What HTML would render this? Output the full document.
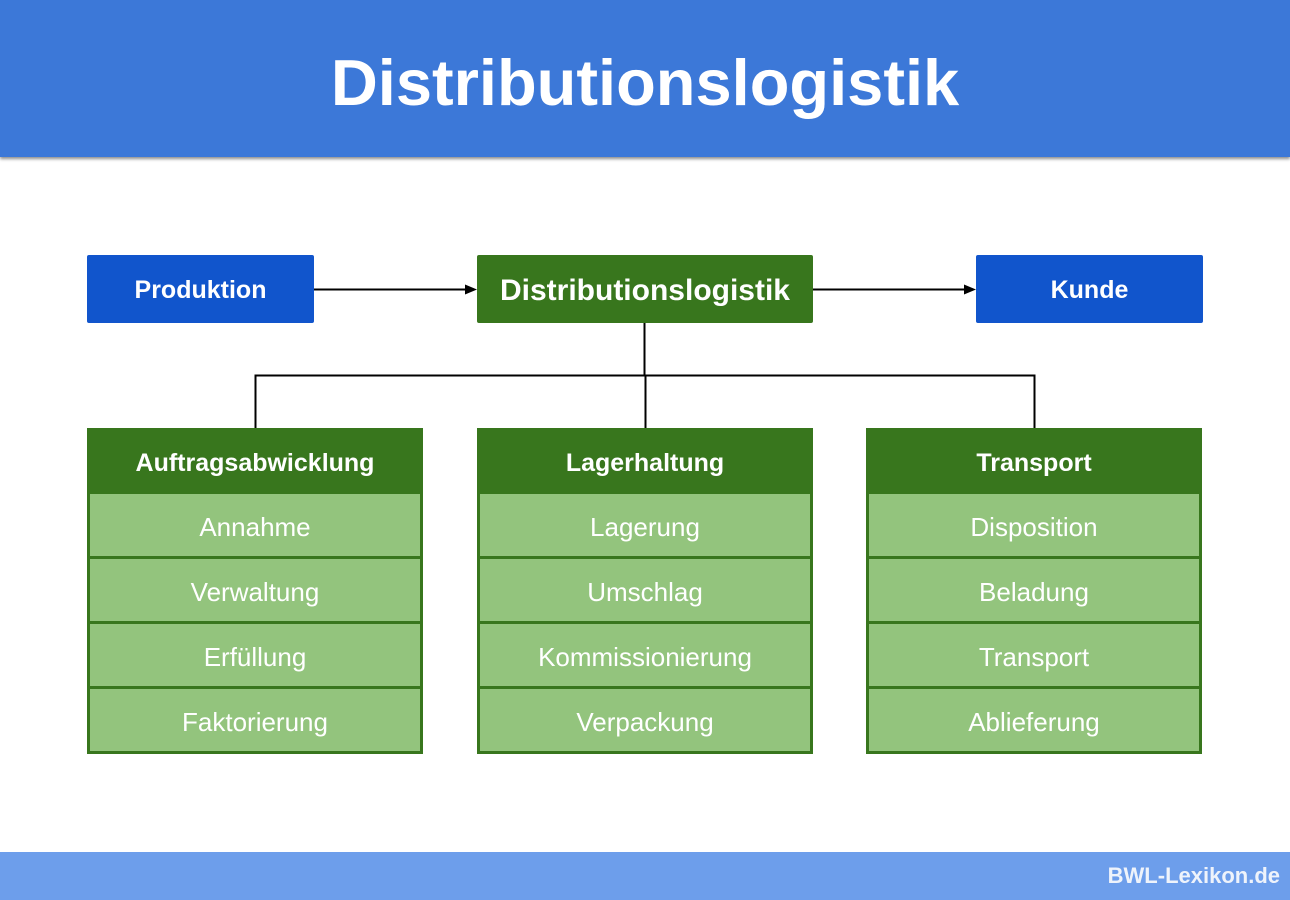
<!DOCTYPE html>
<html><head><meta charset="utf-8"><style>
body{margin:0;width:1290px;height:900px;position:relative;background:#fff;font-family:"Liberation Sans",Arial,sans-serif;overflow:hidden}
.hdr{position:absolute;left:0;top:0;width:1290px;height:157px;background:#3c78d8;box-shadow:0 2px 3px rgba(0,0,0,.45);color:#fff;font-weight:bold;font-size:65px;text-align:center;line-height:166px}
.ftr{position:absolute;left:0;top:852px;width:1290px;height:48px;background:#6d9eeb;color:#eef3fb;font-weight:bold;font-size:22px;text-align:right;line-height:48px;box-sizing:border-box;padding-right:10px}
.b{position:absolute;color:#fff;font-weight:bold;display:flex;align-items:center;justify-content:center;border-radius:2px;padding-top:3px;box-sizing:border-box}
.blue{background:#1155cc;font-size:25px}
.col{position:absolute;top:428px;width:336px;height:326px;background:#38761d;box-sizing:border-box;padding:0 3px 3px 3px}
.col .h{height:66px;line-height:70px;color:#fff;font-weight:bold;font-size:25px;text-align:center}
.col .r{height:62px;margin-bottom:3px;background:#93c47d;color:#fff;font-size:26px;text-align:center;line-height:67px}
.col .r:last-child{margin-bottom:0}
</style></head><body>
<div class="hdr">Distributionslogistik</div>
<div class="b blue" style="left:87px;top:255px;width:227px;height:68px">Produktion</div>
<div class="b" style="left:477px;top:255px;width:336px;height:68px;background:#38761d;font-size:30px">Distributionslogistik</div>
<div class="b blue" style="left:976px;top:255px;width:227px;height:68px">Kunde</div>
<svg style="position:absolute;left:0;top:0" width="1290" height="900">
<g stroke="#000" stroke-width="2" fill="none">
<line x1="314" y1="289.5" x2="468" y2="289.5"/>
<line x1="813" y1="289.5" x2="967" y2="289.5"/>
<line x1="644.5" y1="323" x2="644.5" y2="376"/>
<polyline points="255.5,428 255.5,375.5 1034.5,375.5 1034.5,428"/>
<line x1="645.5" y1="375" x2="645.5" y2="428"/>
</g>
<polygon points="477,289.5 465,284.5 465,294.5" fill="#000"/>
<polygon points="976,289.5 964,284.5 964,294.5" fill="#000"/>
</svg>
<div class="col" style="left:87px"><div class="h">Auftragsabwicklung</div><div class="r">Annahme</div><div class="r">Verwaltung</div><div class="r">Erfüllung</div><div class="r">Faktorierung</div></div>
<div class="col" style="left:477px"><div class="h">Lagerhaltung</div><div class="r">Lagerung</div><div class="r">Umschlag</div><div class="r">Kommissionierung</div><div class="r">Verpackung</div></div>
<div class="col" style="left:866px"><div class="h">Transport</div><div class="r">Disposition</div><div class="r">Beladung</div><div class="r">Transport</div><div class="r">Ablieferung</div></div>
<div class="ftr">BWL-Lexikon.de</div>
</body></html>
